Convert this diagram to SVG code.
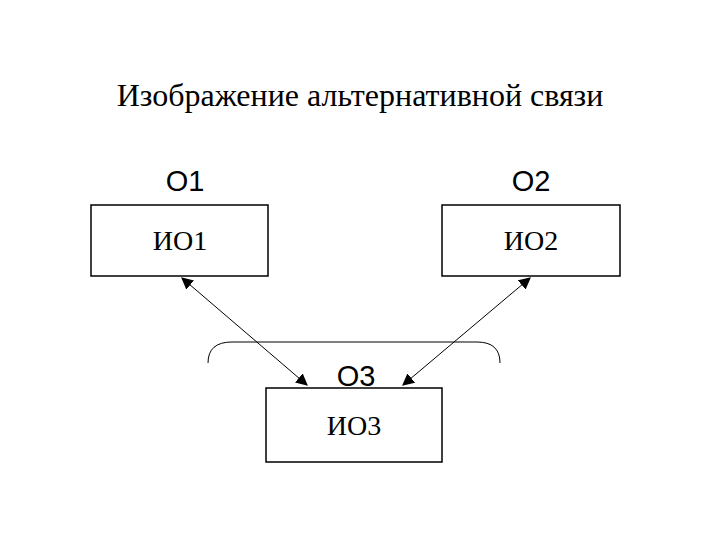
<svg xmlns="http://www.w3.org/2000/svg" width="720" height="540" viewBox="0 0 720 540">
<style>
.box{fill:#fff;stroke:#000;stroke-width:1.5}
.t{font-family:"Liberation Serif",serif;font-size:28px;text-anchor:middle}
.l{font-family:"Liberation Sans",sans-serif;font-size:29px;text-anchor:middle}
.c{stroke:#000;stroke-width:1;fill:none}
</style>
<defs>
<marker id="a" viewBox="0 0 10 10" refX="9" refY="5" markerWidth="12" markerHeight="12" markerUnits="userSpaceOnUse" orient="auto-start-reverse"><path d="M0,0L10,5L0,10z" fill="#000"/></marker>
</defs>
<rect width="720" height="540" fill="#fff"/>
<text x="360" y="106" style="font-family:'Liberation Serif',serif;font-size:32px;text-anchor:middle">Изображение альтернативной связи</text>
<g id="n1"><text class="l" x="185" y="191">O1</text><rect class="box" x="91" y="205" width="177" height="71"/><text class="t" x="180" y="250">ИО1</text></g>
<g id="n2"><text class="l" x="531" y="191">O2</text><rect class="box" x="442" y="205" width="178" height="71"/><text class="t" x="531" y="250">ИО2</text></g>
<g id="n3"><text class="l" x="356" y="386">O3</text><rect class="box" x="266" y="388" width="176" height="74"/><text class="t" x="354" y="435">ИО3</text></g>
<g id="connectors">
<line class="c" x1="182" y1="278" x2="307" y2="385" marker-start="url(#a)" marker-end="url(#a)"/>
<line class="c" x1="530" y1="278" x2="403" y2="385" marker-start="url(#a)" marker-end="url(#a)"/>
<path class="c" d="M208,363 Q208,342 232,342 L477,342 Q500,342 500,363"/>
</g>
</svg>
